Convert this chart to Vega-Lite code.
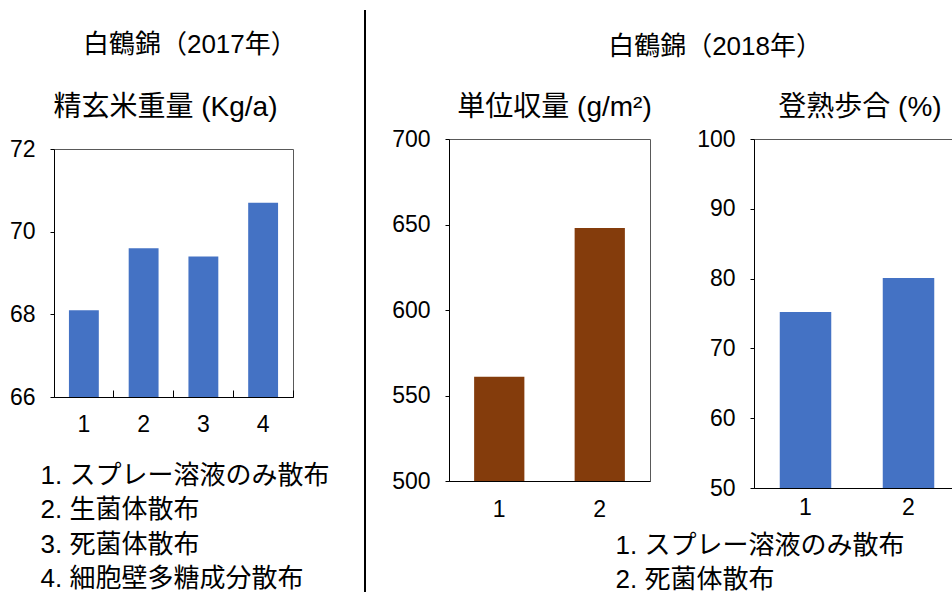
{
  "$schema": "https://vega.github.io/schema/vega-lite/v6.json",
  "background": "white",
  "padding": {"left": 8, "top": 9, "right": 0, "bottom": 0},
  "spacing": 25,
  "config": {
    "font": "Liberation Sans, Noto Sans CJK JP",
    "axis": {
      "labelFont": "Liberation Sans, Noto Sans CJK JP",
      "labelFontSize": 23,
      "labelColor": "#000",
      "domainColor": "#000",
      "tickColor": "#000",
      "titleColor": "#000",
      "titleFont": "Liberation Sans, Noto Sans CJK JP",
      "titleFontWeight": "normal",
      "grid": false
    },
    "title": {
      "font": "Liberation Sans, Noto Sans CJK JP",
      "fontSize": 26,
      "fontWeight": "normal",
      "color": "#000",
      "anchor": "start"
    },
    "text": {"font": "Liberation Sans, Noto Sans CJK JP", "fontSize": 28, "color": "#000"}
  },
  "datasets": {
    "weight2017": [
      {"treat": "1", "weight": 68.1},
      {"treat": "2", "weight": 69.6},
      {"treat": "3", "weight": 69.4},
      {"treat": "4", "weight": 70.7}
    ],
    "yield2018": [
      {"treat": "1", "yield": 561},
      {"treat": "2", "yield": 648}
    ],
    "ripening2018": [
      {"treat": "1", "ratio": 75.2},
      {"treat": "2", "ratio": 80.1}
    ],
    "heading2017": [{"name": "精玄米重量 (Kg/a)"}],
    "headingYield": [{"name": "単位収量 (g/m²)"}],
    "headingRipening": [{"name": "登熟歩合 (%)"}],
    "divider": [{"pos": 1}]
  },
  "hconcat": [
    {
      "title": {"text": "白鶴錦（2017年）", "offset": 36, "dx": 74},
      "spacing": 15,
      "vconcat": [
        {
          "width": 239,
          "height": 26,
          "data": {"name": "heading2017"},
          "view": {"stroke": null},
          "mark": {"type": "text", "dx": -8},
          "encoding": {"text": {"field": "name"}}
        },
        {
          "width": 239,
          "height": 248,
          "data": {"name": "weight2017"},
          "view": {"stroke": "#595959", "strokeWidth": 1},
          "mark": {"type": "bar", "color": "#4472C4", "clip": true},
          "encoding": {
            "x": {
              "field": "treat",
              "type": "ordinal",
              "scale": {"paddingInner": 0.5, "paddingOuter": 0.25},
              "axis": {
                "labelAngle": 0,
                "bandPosition": 1.5,
                "tickSize": -7,
                "labelPadding": 23,
                "title": ["1. スプレー溶液のみ散布", "2. 生菌体散布", "3. 死菌体散布", "4. 細胞壁多糖成分散布"],
                "titleFontSize": 26,
                "titleX": -14,
                "titleY": 65,
                "titleAlign": "left",
                "titleAnchor": "start",
                "titleBaseline": "top",
                "titleLineHeight": 34.5
              }
            },
            "y": {
              "field": "weight",
              "type": "quantitative",
              "scale": {"domain": [66, 72], "nice": false, "zero": false},
              "axis": {"values": [66, 68, 70, 72], "title": null, "tickSize": 4, "labelPadding": 15}
            }
          }
        }
      ]
    },
    {
      "width": 10,
      "height": 497,
      "data": {"name": "divider"},
      "view": {"stroke": null},
      "mark": {"type": "rule", "color": "#000", "strokeWidth": 2},
      "encoding": {
        "x": {"field": "pos", "type": "quantitative", "scale": {"domain": [0, 1]}, "axis": null},
        "y": {"datum": 0, "type": "quantitative", "scale": {"domain": [0, 1]}, "axis": null},
        "y2": {"datum": 1.171}
      }
    },
    {
      "title": {"text": "白鶴錦（2018年）", "offset": 34, "dx": 217},
      "spacing": 5,
      "vconcat": [
        {
          "bounds": "flush",
          "spacing": 104,
          "hconcat": [
            {
              "width": 201,
              "height": 26,
              "data": {"name": "headingYield"},
              "view": {"stroke": null},
              "mark": {"type": "text", "dx": 5},
              "encoding": {"text": {"field": "name"}}
            },
            {
              "width": 206,
              "height": 26,
              "data": {"name": "headingRipening"},
              "view": {"stroke": null},
              "mark": {"type": "text", "dx": 3},
              "encoding": {"text": {"field": "name"}}
            }
          ]
        },
        {
          "bounds": "flush",
          "spacing": 104,
          "hconcat": [
            {
              "width": 201,
              "height": 342,
              "data": {"name": "yield2018"},
              "view": {"stroke": "#595959", "strokeWidth": 1},
              "mark": {"type": "bar", "color": "#843C0C", "clip": true},
              "encoding": {
                "x": {
                  "field": "treat",
                  "type": "ordinal",
                  "scale": {"paddingInner": 0.5, "paddingOuter": 0.25},
                  "axis": {
                    "labelAngle": 0,
                    "ticks": false,
                    "labelPadding": 17,
                    "title": ["1. スプレー溶液のみ散布", "2. 死菌体散布"],
                    "titleFontSize": 26,
                    "titleX": 166,
                    "titleY": 51,
                    "titleAlign": "left",
                    "titleAnchor": "start",
                    "titleBaseline": "top",
                    "titleLineHeight": 34.5
                  }
                },
                "y": {
                  "field": "yield",
                  "type": "quantitative",
                  "scale": {"domain": [500, 700], "nice": false, "zero": false},
                  "axis": {"values": [500, 550, 600, 650, 700], "title": null, "tickSize": 4, "labelPadding": 15}
                }
              }
            },
            {
              "width": 206,
              "height": 349,
              "data": {"name": "ripening2018"},
              "view": {"stroke": "#595959", "strokeWidth": 1},
              "mark": {"type": "bar", "color": "#4472C4", "clip": true},
              "encoding": {
                "x": {
                  "field": "treat",
                  "type": "ordinal",
                  "scale": {"paddingInner": 0.5, "paddingOuter": 0.25},
                  "axis": {"labelAngle": 0, "ticks": false, "labelPadding": 8, "title": null}
                },
                "y": {
                  "field": "ratio",
                  "type": "quantitative",
                  "scale": {"domain": [50, 100], "nice": false, "zero": false},
                  "axis": {"values": [50, 60, 70, 80, 90, 100], "title": null, "tickSize": 4, "labelPadding": 15}
                }
              }
            }
          ]
        }
      ]
    }
  ]
}
